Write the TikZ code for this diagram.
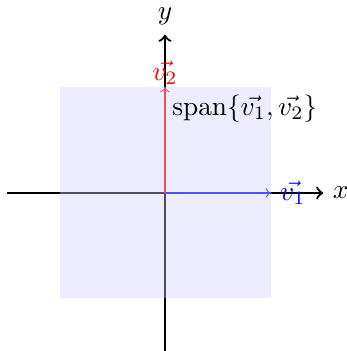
\documentclass[tikz,border=0pt]{standalone}
\begin{document}
\begin{tikzpicture}[x=1.36cm,y=1.36cm,
  axis/.style={thick,->},
  vec/.style={->},
  spanfill/.style={fill=blue!18,fill opacity=0.38}]
\useasboundingbox (-1.564,-1.498) rectangle (1.725,1.829);
\coordinate (O) at (0,0);
\coordinate (xl) at (-1.5,0);
\coordinate (yb) at (0,-1.5);
\coordinate (xe) at (1.5,0);
\coordinate (ye) at (0,1.5);
\node[right] (xlab) at (xe) {$x$};
\node[above] (ylab) at (ye) {$y$};
\draw[axis] (xl) -- (xe);
\draw[axis] (yb) -- (ye);
\coordinate (e1) at (1,0);
\coordinate (e2) at (0,1);
\draw[vec,blue] (O) -- (e1) node[right] (v1) {$\vec{v_1}$};
\draw[vec,red] (O) -- (e2) node[above,inner sep=1pt] (v2) {$\vec{v_2}$};
\path[spanfill] (-1,-1) rectangle (1,1);
\node[below right,inner sep=2.5pt] (span) at (e2) {$\mathrm{span}\{\vec{v_1},\vec{v_2}\}$};
\end{tikzpicture}
\end{document}
